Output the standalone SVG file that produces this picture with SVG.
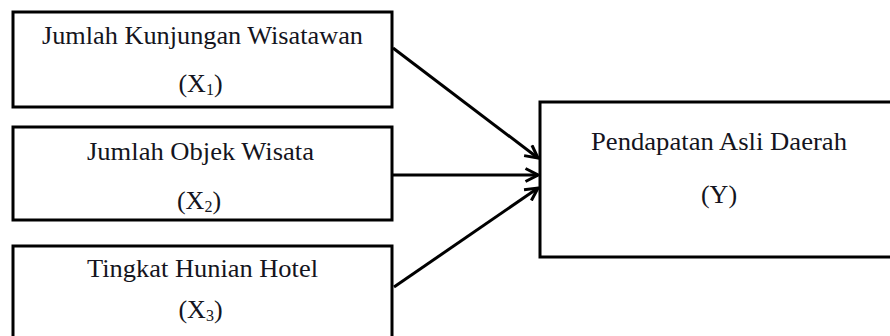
<svg xmlns="http://www.w3.org/2000/svg" width="890" height="336" viewBox="0 0 890 336">
  <style>
    .box { fill: #ffffff; stroke: #000000; stroke-width: 3; }
    .lbl { font-family: "Liberation Serif", "Times New Roman", serif; font-size: 26px; fill: #141420; text-anchor: middle; }
    .sub { font-size: 16px; }
    .conn { stroke: #000000; stroke-width: 3; fill: none; marker-end: url(#arr); }
  </style>
  <defs>
    <marker id="arr" viewBox="0 0 16 16" refX="14" refY="8" markerWidth="16" markerHeight="16" markerUnits="userSpaceOnUse" orient="auto">
      <path d="M1.5,1.5 L14,8 L1.5,14.5" fill="none" stroke="#000000" stroke-width="3" stroke-linejoin="miter"/>
    </marker>
  </defs>
  <rect width="890" height="336" fill="#ffffff"/>

  <g id="x1">
    <rect class="box" x="13" y="12" width="379" height="95"/>
    <text class="lbl" x="202.5" y="44" textLength="321" lengthAdjust="spacingAndGlyphs">Jumlah Kunjungan  Wisatawan</text>
    <text class="lbl" x="200.5" y="92">(X<tspan class="sub" dy="3">1</tspan><tspan dy="-3">)</tspan></text>
  </g>

  <g id="x2">
    <rect class="box" x="13" y="127" width="379" height="93"/>
    <text class="lbl" x="200.5" y="160" textLength="227" lengthAdjust="spacingAndGlyphs">Jumlah Objek Wisata</text>
    <text class="lbl" x="199" y="209">(X<tspan class="sub" dy="3">2</tspan><tspan dy="-3">)</tspan></text>
  </g>

  <g id="x3">
    <rect class="box" x="13" y="246" width="379" height="100"/>
    <text class="lbl" x="202.5" y="277" textLength="231" lengthAdjust="spacingAndGlyphs">Tingkat Hunian Hotel</text>
    <text class="lbl" x="200.5" y="318">(X<tspan class="sub" dy="3">3</tspan><tspan dy="-3">)</tspan></text>
  </g>

  <g id="y">
    <rect class="box" x="540" y="102" width="370" height="155"/>
    <text class="lbl" x="719" y="150" textLength="256" lengthAdjust="spacingAndGlyphs">Pendapatan  Asli Daerah</text>
    <text class="lbl" x="719" y="203">(Y)</text>
  </g>

  <g id="connectors">
    <line class="conn" x1="393" y1="48" x2="538" y2="158"/>
    <line class="conn" x1="392" y1="175" x2="538" y2="175"/>
    <line class="conn" x1="394" y1="287" x2="538" y2="188"/>
  </g>
</svg>
